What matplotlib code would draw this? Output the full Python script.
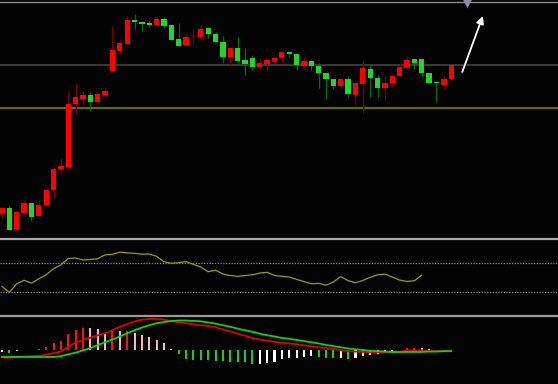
import numpy as np
import matplotlib
matplotlib.use("Agg")
import matplotlib.pyplot as plt
from matplotlib.lines import Line2D

# daily candles: open, high, low, close
opens = [8.7, 9.2, 7.0, 8.7, 9.7, 8.4, 9.5, 11.0, 13.1, 13.3, 19.6, 20.1, 20.5, 19.8, 20.5,
         22.9, 24.9, 25.6, 28.0, 27.8, 27.7, 27.5, 28.1, 27.5, 26.1, 25.5, 26.3, 26.3, 27.2,
         26.6, 25.8, 24.3, 25.2, 24.0, 24.2, 23.3, 23.6, 23.9, 24.2, 24.8, 24.6, 23.4, 23.9,
         23.4, 22.7, 22.1, 21.4, 22.1, 20.5, 21.6, 23.1, 22.2, 21.2, 21.7, 22.4, 23.2, 24.1,
         24.1, 22.7, 21.8, 21.5, 22.1]
highs = [9.2, 9.4, 8.8, 10.0, 9.7, 10.0, 11.0, 13.4, 14.2, 20.9, 21.7, 20.9, 20.8, 20.6, 21.3,
         27.4, 26.0, 28.4, 28.6, 27.8, 27.9, 28.3, 28.3, 27.5, 27.7, 26.7, 27.1, 27.6, 27.3,
         26.8, 26.4, 25.2, 26.3, 25.2, 24.5, 24.2, 24.0, 24.2, 24.8, 24.8, 24.6, 24.3, 23.9,
         23.7, 22.7, 22.1, 22.1, 22.4, 21.7, 23.9, 23.6, 22.5, 22.4, 22.4, 23.7, 24.4, 24.1,
         24.1, 22.7, 21.8, 22.4, 23.5]
lows = [8.1, 7.0, 6.7, 8.7, 7.9, 8.4, 9.5, 10.2, 12.6, 12.9, 18.6, 19.5, 18.9, 19.7, 20.3,
        22.9, 24.6, 25.6, 27.1, 26.9, 27.3, 27.5, 27.2, 26.0, 25.3, 25.5, 25.5, 26.1, 26.2,
        25.8, 23.7, 23.5, 23.7, 22.5, 23.0, 23.2, 22.9, 23.7, 23.7, 24.3, 23.0, 23.2, 23.0,
        21.2, 20.1, 21.1, 21.1, 20.3, 19.5, 18.7, 20.3, 20.3, 19.9, 21.3, 22.4, 23.0, 23.1,
        22.3, 21.7, 19.8, 21.1, 22.1]
closes = [9.2, 7.0, 8.8, 9.7, 8.3, 9.5, 11.0, 13.1, 13.4, 19.6, 20.3, 20.5, 19.8, 20.6, 20.9,
          25.0, 25.7, 28.0, 27.8, 27.6, 27.5, 28.1, 27.4, 26.0, 25.4, 26.3, 26.3, 27.1, 26.6,
          25.8, 24.3, 25.2, 23.9, 23.6, 23.3, 23.7, 24.0, 24.2, 24.8, 24.6, 23.5, 23.9, 23.4,
          22.7, 22.1, 21.4, 22.1, 20.6, 21.7, 23.2, 22.2, 21.2, 21.7, 22.4, 23.3, 24.0, 23.7,
          22.7, 21.7, 21.7, 22.1, 23.5]

support_level = 19.2
resist_level = 23.5

# CCI style oscillator (shorter than the candle series)
cci = [-59, -100, -41, -17, -37, -7, 20, 62, 88, 132, 135, 121, 125, 130, 157, 160, 175, 170,
       167, 161, 162, 146, 109, 99, 103, 110, 92, 73, 41, 52, 25, 15, 10, 15, 20, 32, 37, 16,
       10, 5, -11, -26, -41, -38, -51, -29, 8, -20, -34, -18, 3, 20, 25, 5, -16, -25, -20, 18]
cci_levels = [100, -100]

# MACD
dif = [-0.18, -0.19, -0.17, -0.16, -0.15, -0.14, -0.11, -0.07, -0.03, 0.09, 0.20, 0.27, 0.33,
       0.39, 0.44, 0.52, 0.61, 0.68, 0.75, 0.79, 0.81, 0.81, 0.79, 0.76, 0.72, 0.70, 0.67, 0.65,
       0.63, 0.60, 0.54, 0.49, 0.43, 0.38, 0.32, 0.28, 0.25, 0.22, 0.20, 0.18, 0.16, 0.13, 0.11,
       0.08, 0.06, 0.04, 0.01, -0.02, -0.03, -0.04, -0.05, -0.05, -0.05, -0.05, -0.04, 0.00,
       0.00, 0.00, -0.02, -0.02, -0.02, -0.02]
dea = [-0.17, -0.17, -0.17, -0.17, -0.17, -0.17, -0.17, -0.17, -0.15, -0.10, -0.06, 0.00, 0.06,
       0.14, 0.21, 0.28, 0.36, 0.44, 0.52, 0.59, 0.65, 0.70, 0.73, 0.76, 0.77, 0.77, 0.76, 0.75,
       0.72, 0.69, 0.65, 0.61, 0.56, 0.52, 0.48, 0.43, 0.39, 0.36, 0.32, 0.30, 0.27, 0.24, 0.21,
       0.18, 0.14, 0.11, 0.08, 0.05, 0.03, 0.01, -0.01, -0.02, -0.03, -0.04, -0.04, -0.04,
       -0.04, -0.04, -0.03, -0.03, -0.02, -0.02]
hist = [-0.032, -0.054, -0.02, 0.02, 0.022, 0.048, 0.094, 0.194, 0.248, 0.414, 0.528, 0.588,
        0.584, 0.548, 0.46, 0.494, 0.49, 0.508, 0.46, 0.408, 0.334, 0.274, 0.18, 0.048, -0.086,
        -0.22, -0.24, -0.252, -0.256, -0.266, -0.274, -0.286, -0.30, -0.306, -0.352, -0.348,
        -0.318, -0.292, -0.232, -0.186, -0.184, -0.172, -0.152, -0.172, -0.186, -0.20, -0.186,
        -0.22, -0.186, -0.134, -0.106, -0.086, -0.066, -0.04, 0.01, 0.054, 0.074, 0.06, 0.026,
        0.006, -0.006, -0.008]

bg = '#030303'
W, H = 558, 384
fig = plt.figure(figsize=(W / 100, H / 100), dpi=100, facecolor=bg)

def panel(top, bottom):
    ax = fig.add_axes([0, 1 - bottom / H, 1, (bottom - top) / H])
    ax.set_facecolor(bg)
    for s in ax.spines.values():
        s.set_visible(False)
    ax.set_xticks([])
    ax.set_yticks([])
    ax.set_xlim(-0.27, 75.5)
    return ax

ax = panel(3, 238)
ax2 = panel(240, 314.5)
ax3 = panel(316.5, 384)

# main price panel
x = np.arange(len(opens))
o = np.array(opens); h = np.array(highs); l = np.array(lows); c = np.array(closes)
ax.axhline(resist_level, color='#3e3e3e', lw=1.3, zorder=1)
ax.axhline(support_level, color='#6a6a00', lw=1.5, zorder=1)
for i in x:
    if c[i] > o[i]:
        body, wick = '#ff0000', '#7a0000'
    elif c[i] < o[i]:
        body, wick = '#26d626', '#0a6a0a'
    else:
        body, wick = '#7a0000', '#7a0000'
    ax.vlines(i, l[i], h[i], color=wick, lw=0.9, zorder=2)
    ax.bar(i, max(abs(c[i] - o[i]), 0.12), bottom=min(o[i], c[i]), width=0.72,
           color=body, lw=0, zorder=3)
ax.set_ylim(6.2, 29.7)

# projection arrow after the last candle
arr_start = (x[-1] + 1.5, closes[-1] - 0.7)
arr_end = (x[-1] + 4.3, closes[-1] + 4.9)
ax.annotate('', xy=arr_end, xytext=arr_start,
            arrowprops=dict(arrowstyle='-|>', color='white', lw=1.3, mutation_scale=11,
                            shrinkA=0, shrinkB=0))
ax.plot([x[-1] + 2.1], [1.0], marker='v', ms=7, color='#8190a8', mec='none',
        transform=ax.get_xaxis_transform(), clip_on=False, zorder=5)

# oscillator
xc = np.arange(len(cci))
for lv in cci_levels:
    ax2.axhline(lv, color='#8a8a8a', lw=0.9, ls=(0, (1, 1.2)))
ax2.plot(xc, cci, color='#9a9a10', lw=0.9)
ax2.set_ylim(-251, 258)

# macd
hv = np.array(hist)
prev = np.concatenate([[hv[0]], hv[:-1]])
cols = []
for v, p in zip(hv, prev):
    if v >= 0:
        cols.append('#ff1010' if v >= p else '#f2b8c4')
    else:
        cols.append('#ffffff' if v >= p else '#22c822')
ax3.bar(x, hv, width=0.28, color=cols, lw=0)
ax3.plot(x, dif, color='#e00000', lw=1.3)
ax3.plot(x, dea, color='#10d010', lw=1.3)
ax3.set_ylim(-0.866, 0.874)

# panel borders
for yy, col, lw in [(2.2, '#8c8c8c', 1.0), (239.2, '#a8a8a8', 1.6), (315.5, '#9a9a9a', 1.6)]:
    fig.add_artist(Line2D([0, 1], [1 - yy / H, 1 - yy / H], transform=fig.transFigure,
                          color=col, lw=lw))

fig.savefig('out.png', dpi=100, facecolor=bg)
